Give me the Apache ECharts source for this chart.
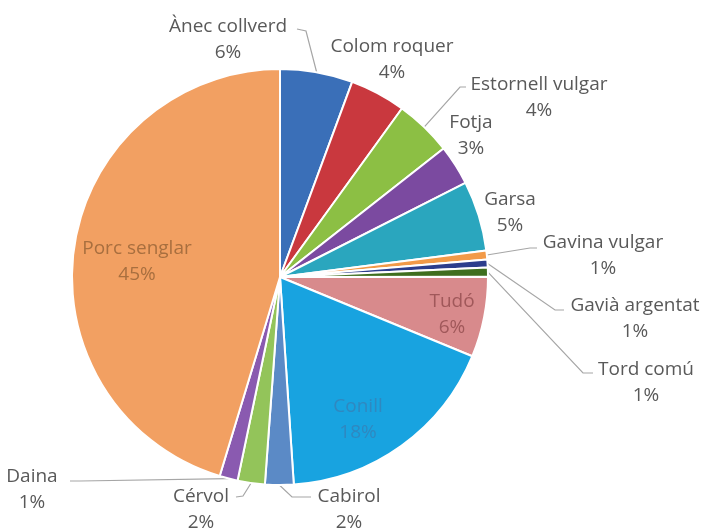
<!DOCTYPE html>
<html><head><meta charset="utf-8">
<script src="https://cdn.jsdelivr.net/npm/echarts@6/dist/echarts.min.js"></script>
<style>html,body{margin:0;padding:0;background:#fff}#c{width:710px;height:532px}</style>
</head><body><div id="c"></div>
<script>
const categories = ['Ànec collverd','Colom roquer','Estornell vulgar','Fotja','Garsa','Gavina vulgar','Gavià argentat','Tord comú','Tudó','Conill','Cabirol','Cérvol','Daina','Porc senglar'];
const values = [5.6, 4.3, 4.4, 3.1, 5.4, 0.7, 0.6, 0.7, 6.2, 17.6, 2.2, 2.1, 1.4, 45.0];
const colors = ['#3a6fb8','#c9383e','#8cbf44','#7b4aa0','#2aa6be','#f29a48','#2c3d8c','#3f6e1e','#d88a8c','#18a3e0','#5b8ac6','#93c45a','#8a5ab0','#f2a062'];

// label placement (text centre) and leader line bends
const labelPos = [[228,40],[392,60],[539,98],[471,136],[510,213],[603,256],[635,319],[646,383],[452,315],[358,420],[349,510],[201,510],[32,490],[137,262]];
const insideIdx = [8,9,13];
const insideColor = {8:'#a0585a', 9:'#2f88c0', 13:'#a86f3f'};
const linePts = {
  0: [[306,31],[297,29]],
  2: [[460,87],[466,87]],
  5: [[530,248],[537,248]],
  6: [[555,310],[564,310]],
  7: [[583,373],[593,373]],
  10: [[292,497],[311,497]],
  11: [[243,496],[236,497]],
  12: [[80,481],[70,481]]
};

const data = categories.map((n,i)=>({
  name:n, value:values[i],
  itemStyle:{color:colors[i]},
  label: insideIdx.includes(i) ? {position:'inside', color:insideColor[i]} : {position:'outside'},
  labelLine: {show: linePts[i] !== undefined}
}));

const chart = echarts.init(document.getElementById('c'));
chart.setOption({
  animation:false,
  series:[{
    type:'pie',
    center:[280,277],
    radius:208,
    startAngle:90,
    clockwise:true,
    avoidLabelOverlap:false,
    itemStyle:{borderColor:'#fff', borderWidth:2},
    label:{
      formatter:p=>p.name+'\n'+Math.round(p.percent)+'%',
      fontFamily:'Open Sans', fontSize:19, color:'#595959', lineHeight:26, align:'center'
    },
    labelLine:{lineStyle:{color:'#a6a6a6', width:1.2}, length:10, length2:10},
    labelLayout:function(params){
      const i = params.dataIndex;
      const p = labelPos[i];
      const res = {x:p[0], y:p[1], align:'center', verticalAlign:'middle'};
      if (linePts[i] && params.labelLinePoints) {
        res.labelLinePoints = [params.labelLinePoints[0]].concat(linePts[i]);
      }
      return res;
    },
    data:data
  }]
});
</script></body></html>
